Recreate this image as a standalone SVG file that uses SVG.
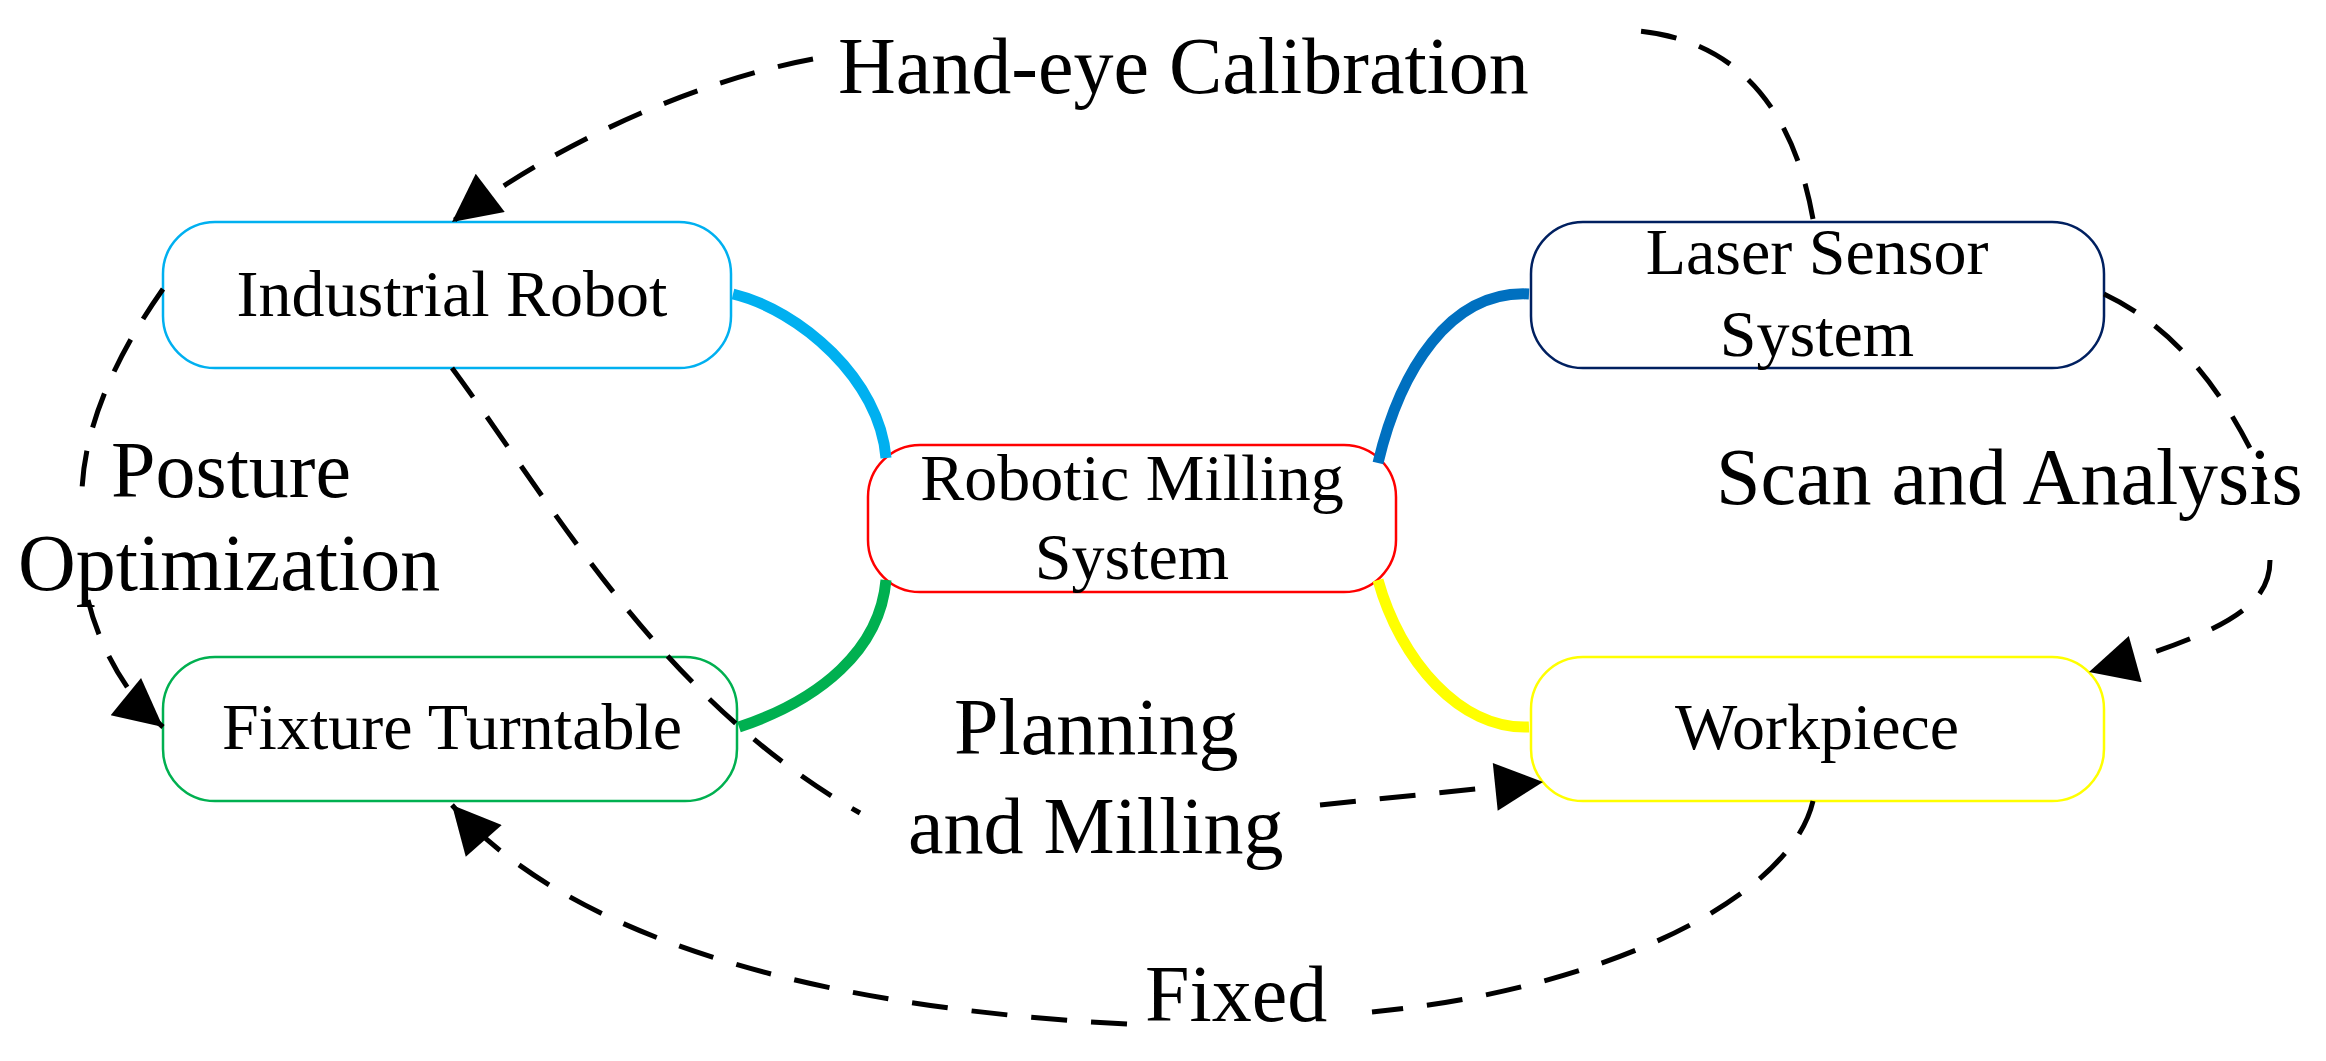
<svg xmlns="http://www.w3.org/2000/svg" width="2326" height="1061" viewBox="0 0 2326 1061">
<style>
.node{fill:#fff;stroke-width:2.5}
.t{font-family:"Liberation Serif",serif;font-size:66px;text-anchor:middle;fill:#000}
.lbl{font-family:"Liberation Serif",serif;font-size:80px;fill:#000}
.d{fill:none;stroke:#000;stroke-width:5;stroke-dasharray:36 24}
.s{fill:none;stroke-width:11}
</style>
<defs>
<marker id="ah" viewBox="0 0 10 10" refX="10" refY="5" markerUnits="userSpaceOnUse" markerWidth="62" markerHeight="48" orient="auto">
<path d="M0,0 L10,5 L0,10 Z" fill="#000"/>
</marker>
</defs>
<rect width="2326" height="1061" fill="#fff"/>
<g id="industrial-robot"><rect class="node" stroke="#00B0F0" x="163" y="222" width="568" height="146" rx="52"/><text class="t" x="452" y="316">Industrial Robot</text></g>
<g id="fixture-turntable"><rect class="node" stroke="#00B050" x="163" y="657" width="574" height="144" rx="52"/><text class="t" x="452" y="749">Fixture Turntable</text></g>
<g id="robotic-milling"><rect class="node" stroke="#FF0000" x="868" y="445" width="528" height="147" rx="52"/><text class="t" x="1132" y="500">Robotic Milling</text><text class="t" x="1132" y="579">System</text></g>
<g id="laser-sensor"><rect class="node" stroke="#002060" x="1531" y="222" width="573" height="146" rx="52"/><text class="t" x="1817" y="274">Laser Sensor</text><text class="t" x="1817" y="356">System</text></g>
<g id="workpiece"><rect class="node" stroke="#FFFF00" x="1531" y="657" width="573" height="144" rx="52"/><text class="t" x="1817" y="749">Workpiece</text></g>
<g id="connectors">
<path class="s" stroke="#00B0F0" d="M733,294 C800,310 880,380 886,458"/>
<path class="s" stroke="#00B050" d="M886,580 C880,650 820,700 739,727"/>
<path class="s" stroke="#0070C0" d="M1378,463 C1400,370 1450,290 1529,294"/>
<path class="s" stroke="#FFFF00" d="M1378,580 C1400,660 1460,730 1529,727"/>
<path class="d" d="M1813,219 C1790,90 1720,32 1620,30"/>
<path class="d" marker-end="url(#ah)" d="M813,59 C700,80 560,140 452,222"/>
<path class="d" d="M163,289 C120,350 85,420 82,490"/>
<path class="d" marker-end="url(#ah)" d="M88,600 C100,650 130,700 163,727"/>
<path class="d" d="M452,368 C550,500 660,700 860,813"/>
<path class="d" marker-end="url(#ah)" d="M1320,805 L1543,782"/>
<path class="d" d="M2104,294 C2180,330 2230,400 2265,480"/>
<path class="d" marker-end="url(#ah)" d="M2270,560 C2270,600 2240,630 2089,672"/>
<path class="d" d="M1813,801 C1790,900 1600,990 1372,1012"/>
<path class="d" marker-end="url(#ah)" d="M1127,1024 C850,1010 580,950 452,805"/>
</g>
<g id="labels">
<text class="lbl" x="838" y="93">Hand-eye Calibration</text>
<text class="lbl" x="111" y="497">Posture</text>
<text class="lbl" x="18" y="590">Optimization</text>
<text class="lbl" x="1716" y="504">Scan and Analysis</text>
<text class="lbl" x="954" y="754">Planning</text>
<text class="lbl" x="908" y="853">and Milling</text>
<text class="lbl" x="1145" y="1021">Fixed</text>
</g>
</svg>
